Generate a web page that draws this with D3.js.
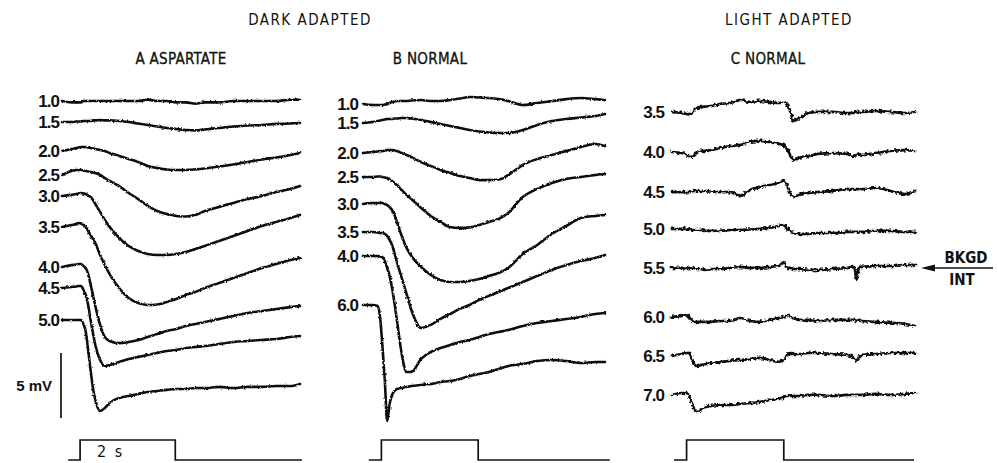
<!DOCTYPE html>
<html>
<head>
<meta charset="utf-8">
<script src="https://cdn.jsdelivr.net/npm/d3@7"></script>
<style>
    body { margin: 0; background: #fff; }
    text { fill: #111; }
    .title { font-family: "Liberation Sans Narrow", "DejaVu Sans Condensed", sans-serif; font-size: 15px; letter-spacing: 1.5px; }
    .panelTitle { font-family: "Liberation Sans Narrow", "DejaVu Sans Condensed", sans-serif; font-size: 15px; letter-spacing: 0.3px; stroke: #111; stroke-width: 0.3px; }
    .marker { font-family: "Liberation Sans Narrow", "DejaVu Sans Condensed", sans-serif; font-size: 15px; font-weight: bold; }
    .intensity { font-family: "Liberation Sans", sans-serif; font-size: 17px; font-weight: bold; letter-spacing: -1px; }
</style>
</head>
<body>
<div id="chart"></div>
<script>
// -------------------------------------------------------------
// Receptor potentials, dark adapted (A, B) vs light adapted (C)
// values are in mV, relative to each trace's resting level
// -------------------------------------------------------------

// sample times (s) for the dark adapted panels
var tDark = [0, 0.2, 0.3, 0.35, 0.4, 0.45, 0.5, 0.55, 0.6, 0.65, 0.7, 0.8, 0.9, 1.0, 1.2, 1.4, 1.6, 1.8, 2.0,
    2.2, 2.4, 2.6, 2.8, 3.0, 3.3, 3.6, 3.9, 4.2, 4.5, 4.8, 5.0];

// sample times (s) for the light adapted panel
var tLight = [0, 0.2, 0.3, 0.35, 0.4, 0.45, 0.5, 0.6, 0.7, 0.8, 1.0, 1.2, 1.4, 1.6, 1.8, 2.0, 2.2, 2.3, 2.35,
    2.4, 2.45, 2.5, 2.6, 2.8, 3.0, 3.3, 3.6, 3.75, 3.8, 3.85, 3.9, 4.2, 4.5, 4.8, 5.0];

// A: aspartate, dark adapted
var aspartateLabels = ['1.0', '1.5', '2.0', '2.5', '3.0', '3.5', '4.0', '4.5', '5.0'];
var aspartateTraces = [
    [0, -.1, -.1, -.1, -.1, 0, 0, 0, 0, 0, 0, 0, 0, 0, 0, 0, 0, .1, 0, 0, -.1, -.1, -.2, -.1, -.1, 0, 0, 0, 0, .1, .1],
    [0, 0, .04, .04, .04, .08, .08, .08, .08, .12, .12, .15, .12, .12, .08, 0, -.12, -.23, -.35, -.46, -.54, -.62, -.65, -.58, -.46, -.35, -.27, -.23, -.15, -.12, -.08],
    [0, .15, .23, .27, .31, .31, .31, .27, .23, .19, .15, .08, 0, -.15, -.38, -.62, -.85, -1.15, -1.31, -1.42, -1.46, -1.46, -1.42, -1.35, -1.19, -1.04, -.85, -.65, -.5, -.31, -.15],
    [0, .31, .38, .38, .38, .35, .31, .27, .23, .19, .15, 0, -.23, -.46, -.85, -1.38, -1.85, -2.38, -2.77, -3.0, -3.15, -3.19, -3.08, -2.77, -2.46, -2.15, -1.85, -1.62, -1.31, -1.08, -.85],
    [0, .08, .15, .19, .23, .19, .15, .04, -.08, -.31, -.62, -1.23, -1.85, -2.38, -3.23, -3.85, -4.23, -4.46, -4.54, -4.54, -4.46, -4.31, -4.08, -3.85, -3.46, -3.08, -2.69, -2.31, -2.0, -1.69, -1.46],
    [0, .15, .23, .31, .27, .15, 0, -.31, -.62, -.92, -1.23, -2.15, -2.92, -3.62, -4.69, -5.46, -5.85, -6.0, -5.96, -5.77, -5.54, -5.23, -5.0, -4.69, -4.31, -3.92, -3.54, -3.15, -2.85, -2.54, -2.38],
    [0, .15, .19, .23, .23, .08, -.08, -.54, -1.31, -2.15, -3.0, -4.46, -5.38, -5.69, -5.85, -5.77, -5.62, -5.38, -5.15, -4.92, -4.77, -4.54, -4.38, -4.23, -4.0, -3.77, -3.54, -3.38, -3.23, -3.08, -3.0],
    [0, .08, .12, .15, .15, -.15, -.54, -1.31, -2.46, -3.46, -4.38, -5.54, -6.0, -5.92, -5.69, -5.46, -5.31, -5.15, -5.0, -4.85, -4.77, -4.62, -4.54, -4.46, -4.31, -4.15, -4.08, -4.0, -3.92, -3.77, -3.69],
    [0, 0, 0, 0, 0, -.31, -.92, -2.31, -3.85, -5.23, -6.15, -7.0, -6.77, -6.38, -6.0, -5.85, -5.69, -5.54, -5.46, -5.38, -5.31, -5.31, -5.23, -5.23, -5.15, -5.23, -5.15, -5.15, -5.08, -5.08, -4.92]
];

// B: normal, dark adapted
var normalDarkLabels = ['1.0', '1.5', '2.0', '2.5', '3.0', '3.5', '4.0', '6.0'];
var normalDarkTraces = [
    [0, -.08, -.08, -.08, -.08, -.04, 0, .08, .15, .19, .23, .23, .23, .27, .31, .23, .23, .31, .42, .54, .5, .46, .38, .23, -.08, .08, .23, .38, .46, .38, .31],
    [0, .08, .15, .19, .23, .27, .31, .31, .31, .35, .35, .38, .38, .35, .23, .08, -.08, -.23, -.38, -.54, -.65, -.73, -.77, -.77, -.54, -.15, .15, .31, .42, .54, .69],
    [0, .08, .12, .15, .15, .19, .23, .23, .23, .19, .15, 0, -.15, -.31, -.69, -1.0, -1.31, -1.54, -1.77, -1.92, -2.08, -2.08, -2.04, -1.69, -.92, -.46, -.15, .15, .46, .69, .54],
    [0, 0, .04, .04, 0, -.04, -.08, -.19, -.31, -.46, -.62, -1.0, -1.38, -1.69, -2.38, -3.0, -3.46, -3.85, -3.92, -3.88, -3.69, -3.46, -3.23, -2.77, -1.54, -.92, -.46, -.15, 0, .15, .23],
    [0, .08, .08, .08, .08, 0, -.08, -.23, -.46, -.85, -1.38, -2.46, -3.38, -4.0, -4.85, -5.46, -5.85, -6.0, -6.0, -5.92, -5.77, -5.54, -5.31, -4.92, -3.85, -3.15, -2.31, -1.69, -1.08, -.92, -.85],
    [0, 0, -.04, -.08, -.08, -.15, -.31, -.62, -1.0, -1.62, -2.31, -3.54, -4.77, -6.0, -7.38, -7.15, -6.69, -6.31, -5.92, -5.62, -5.23, -4.92, -4.62, -4.31, -3.85, -3.38, -2.92, -2.54, -2.23, -2.0, -1.77],
    [0, 0, 0, -.04, -.08, -.38, -.92, -1.54, -2.46, -3.62, -4.92, -7.54, -8.92, -8.92, -7.92, -7.38, -7.08, -6.85, -6.62, -6.46, -6.23, -6.0, -5.85, -5.69, -5.38, -5.15, -5.0, -4.85, -4.69, -4.46, -4.38],
    [0, 0, -.08, -.85, -3.08, -5.77, -8.92, -7.62, -6.92, -6.62, -6.46, -6.38, -6.31, -6.23, -6.15, -6.08, -5.92, -5.85, -5.69, -5.46, -5.31, -5.15, -4.92, -4.69, -4.54, -4.31, -4.23, -4.31, -4.46, -4.38, -4.38]
];

// C: normal, light adapted
var normalLightLabels = ['3.5', '4.0', '4.5', '5.0', '5.5', '6.0', '6.5', '7.0'];
var normalLightTraces = [
    [0, -.08, -.15, -.19, -.08, .15, .31, .38, .42, .46, .62, .69, .92, .77, .85, .77, .69, .77, .62, .31, -.15, -.69, -.54, -.08, 0, 0, -.08, -.08, 0, 0, 0, .08, 0, -.08, 0],
    [0, -.08, -.23, -.38, -.38, -.23, -.08, .08, .08, .15, .31, .46, .54, .77, .85, .77, .62, .54, .31, 0, -.38, -.62, -.46, -.31, -.15, -.08, -.15, -.31, -.23, -.15, -.23, -.08, .08, .15, .08],
    [0, 0, 0, 0, .04, .08, .08, .08, .08, .04, 0, 0, -.31, .15, .38, .54, .69, .92, .62, .23, -.15, -.38, -.23, -.08, 0, .08, .23, .23, .23, .23, .23, .31, .08, -.15, .08],
    [0, 0, 0, 0, -.08, -.08, -.08, -.08, -.15, -.15, -.15, -.08, -.08, -.04, 0, .08, .23, .31, .15, -.08, -.23, -.31, -.38, -.38, -.31, -.31, -.23, -.23, -.23, -.23, -.23, -.15, -.15, -.23, -.23],
    [0, 0, -.08, 0, 0, 0, -.08, -.08, -.15, -.08, -.08, 0, .08, 0, 0, .08, .15, .46, .08, 0, 0, -.08, -.08, -.15, -.15, -.08, 0, .08, -.92, .08, .08, .15, .15, .23, .23],
    [0, .08, .15, 0, -.23, -.38, -.38, -.38, -.38, -.38, -.31, -.31, -.08, -.31, -.38, -.23, -.08, 0, .08, .15, 0, -.08, -.23, -.23, -.31, -.23, -.23, -.23, -.31, -.23, -.31, -.38, -.46, -.54, -.69],
    [0, .15, .23, .23, -.15, -.54, -.77, -.69, -.62, -.54, -.46, -.38, -.31, -.23, -.15, -.31, -.46, -.31, -.08, .15, .15, .15, .15, .23, .23, .15, .08, -.15, -.38, -.15, .08, .15, .23, .23, .23],
    [0, .15, .15, 0, -.54, -1.0, -1.31, -1.15, -.92, -.85, -.77, -.77, -.69, -.62, -.54, -.38, -.31, -.15, -.08, -.08, -.08, -.08, -.08, 0, 0, -.08, 0, 0, 0, 0, 0, .08, 0, .08, .15]
];

// light stimulus (s): pen start, light on, light off, pen end
var stimA = [0.13, 0.38, 2.38, 5.04];
var stimB = [0.12, 0.38, 2.38, 5.1];
var stimC = [0.04, 0.3, 2.3, 4.98];

// ---------------- layout ----------------
var svgWidth = 998;
var svgHeight = 463;

// vertical stacking of the traces (mV below the top trace level)
var panels = [
    { times: tDark, traces: aspartateTraces, labels: aspartateLabels, stim: stimA,
      xRange: [62, 300], labelX: 59, filter: 'url(#roughDark)', width: 2.6,
      offsets: [-0.08, -1.69, -3.92, -5.77, -7.38, -9.77, -12.85, -14.46, -16.92] },
    { times: tDark, traces: normalDarkTraces, labels: normalDarkLabels, stim: stimB,
      xRange: [363, 605], labelX: 358, filter: 'url(#roughDark)', width: 2.6,
      offsets: [-0.31, -1.77, -4.08, -5.92, -8.0, -10.15, -12.0, -15.77] },
    { times: tLight, traces: normalLightTraces, labels: normalLightLabels, stim: stimC,
      xRange: [672, 915], labelX: 664, filter: 'url(#roughLight)', width: 2.7,
      offsets: [-0.92, -4.0, -7.08, -9.92, -12.92, -16.69, -19.69, -22.69] }
];

// 13 px per mV, shared by all traces and the calibration bar
var mvScale = d3.scaleLinear().domain([0, -30]).range([100, 490]);
var stimScale = d3.scaleLinear().domain([0, 1]).range([460, 440]);

var svg = d3.select('#chart')
    .append('svg')
    .attr('width', svgWidth)
    .attr('height', svgHeight);

// pen roughness of the chart recorder
var defs = svg.append('defs');
function addRough(id, freq, amount) {
    var f = defs.append('filter')
        .attr('id', id)
        .attr('filterUnits', 'userSpaceOnUse')
        .attr('x', 0).attr('y', 0)
        .attr('width', svgWidth).attr('height', svgHeight);
    f.append('feTurbulence')
        .attr('type', 'fractalNoise')
        .attr('baseFrequency', freq)
        .attr('numOctaves', 2)
        .attr('seed', 7)
        .attr('result', 'noise');
    f.append('feDisplacementMap')
        .attr('in', 'SourceGraphic')
        .attr('in2', 'noise')
        .attr('scale', amount)
        .attr('xChannelSelector', 'R')
        .attr('yChannelSelector', 'G');
}
addRough('roughDark', 0.45, 2.6);
addRough('roughLight', 0.35, 4.5);

// headings
svg.append('text').attr('class', 'title').attr('x', 310).attr('y', 25)
    .attr('text-anchor', 'middle').text('DARK ADAPTED');
svg.append('text').attr('class', 'title').attr('x', 789).attr('y', 25)
    .attr('text-anchor', 'middle').text('LIGHT ADAPTED');

var panelTitles = ['A ASPARTATE', 'B NORMAL', 'C NORMAL'];
var panelTitleX = [181, 430, 768];
panelTitles.forEach(function(t, i) {
    svg.append('text').attr('class', 'panelTitle')
        .attr('x', panelTitleX[i]).attr('y', 64)
        .attr('text-anchor', 'middle').text(t);
});

panels.forEach(function(p) {
    var xScale = d3.scaleLinear().domain([0, 5]).range(p.xRange);

    var g = svg.append('g').attr('filter', p.filter);

    p.traces.forEach(function(values, i) {
        var line = d3.line()
            .x(function(d, j) { return xScale(p.times[j]); })
            .y(function(d) { return mvScale(p.offsets[i] + d); })
            .curve(d3.curveMonotoneX);

        g.append('path')
            .datum(values)
            .attr('d', line)
            .attr('fill', 'none')
            .attr('stroke', '#111')
            .attr('stroke-width', p.width)
            .attr('stroke-linejoin', 'round')
            .attr('stroke-linecap', 'round');

        svg.append('text')
            .attr('class', 'intensity')
            .attr('x', p.labelX)
            .attr('y', mvScale(p.offsets[i]))
            .attr('dy', '0.36em')
            .attr('text-anchor', 'end')
            .text(p.labels[i]);
    });

    // stimulus monitor
    var s = p.stim;
    var stimPts = [[s[0], 0], [s[1], 0], [s[1], 1], [s[2], 1], [s[2], 0], [s[3], 0]];
    svg.append('path')
        .datum(stimPts)
        .attr('d', d3.line()
            .x(function(d) { return xScale(d[0]); })
            .y(function(d) { return stimScale(d[1]); }))
        .attr('fill', 'none')
        .attr('stroke', '#111')
        .attr('stroke-width', 1.7);

    p.xScale = xScale;
});

// "2 s" inside the first stimulus
svg.append('text').attr('class', 'title')
    .attr('x', panels[0].xScale(stimA[1]) + 17).attr('y', 457)
    .style('font-size', '16px').style('letter-spacing', '2px')
    .text('2 s');

// 5 mV calibration bar
var calTop = -19.46;
svg.append('line')
    .attr('x1', 61).attr('x2', 61)
    .attr('y1', mvScale(calTop)).attr('y2', mvScale(calTop - 5))
    .attr('stroke', '#111').attr('stroke-width', 1.7);
svg.append('text').attr('class', 'intensity')
    .attr('x', 52).attr('y', mvScale(calTop - 2.5)).attr('dy', '0.36em')
    .attr('text-anchor', 'end').style('font-size', '15px').style('letter-spacing', '0px')
    .text('5 mV');

// background intensity marker beside the 5.5 trace
var bkgdY = mvScale(panels[2].offsets[4]);
svg.append('line')
    .attr('x1', 926).attr('x2', 993)
    .attr('y1', bkgdY).attr('y2', bkgdY)
    .attr('stroke', '#111').attr('stroke-width', 1.6);
svg.append('path')
    .attr('d', 'M921,' + bkgdY + 'L935,' + (bkgdY - 3.5) + 'L935,' + (bkgdY + 3.5) + 'Z')
    .attr('fill', '#111');
svg.append('text').attr('class', 'marker')
    .attr('x', 966).attr('y', bkgdY - 5).attr('text-anchor', 'middle')
    .text('BKGD');
svg.append('text').attr('class', 'marker')
    .attr('x', 962).attr('y', bkgdY + 17).attr('text-anchor', 'middle')
    .text('INT');
</script>
</body>
</html>
